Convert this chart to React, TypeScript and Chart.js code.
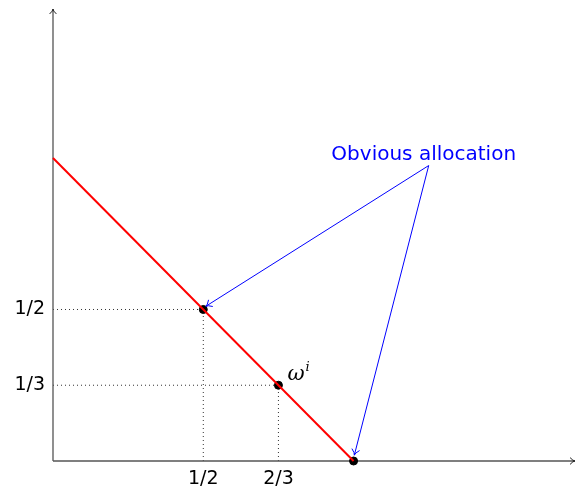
import React, { useEffect, useRef } from "react";
import { Chart, registerables } from "chart.js";

Chart.register(...registerables);

// Budget line x + y = 1
const budgetLine = [
  { x: 0, y: 1 },
  { x: 1, y: 0 },
];
// Marked allocations
const markedPoints = [
  { x: 0.5, y: 0.5 },
  { x: 0.75, y: 0.25 },
  { x: 1, y: 0 },
];
// Tick values and their labels
const xTickValues = [0.5, 0.75];
const xTickLabels = ["1/2", "2/3"];
const yTickValues = [0.5, 0.25];
const yTickLabels = ["1/2", "1/3"];
// Annotation
const annotationText = "Obvious allocation";
const annotationAnchor = { x: 1.25, y: 0.985 };
const annotationTargets = [
  { x: 0.5, y: 0.5 },
  { x: 1, y: 0 },
];
const endowmentLabel = { x: 0.75, y: 0.25 };

const X_MAX = 1.74;
const Y_MAX = 1.495;

const FONT = "'DejaVu Sans', sans-serif";

function arrowHead(ctx: CanvasRenderingContext2D, x: number, y: number, ang: number, len: number) {
  ctx.beginPath();
  ctx.moveTo(x - len * Math.cos(ang - 0.6), y - len * Math.sin(ang - 0.6));
  ctx.quadraticCurveTo(x - len * 0.3 * Math.cos(ang), y - len * 0.3 * Math.sin(ang), x, y);
  ctx.quadraticCurveTo(x - len * 0.3 * Math.cos(ang), y - len * 0.3 * Math.sin(ang), x - len * Math.cos(ang + 0.6), y - len * Math.sin(ang + 0.6));
  ctx.stroke();
}

const overlay = {
  id: "overlay",
  beforeDatasetsDraw(chart: any) {
    const ctx: CanvasRenderingContext2D = chart.ctx;
    const xs = chart.scales.x;
    const ys = chart.scales.y;
    const x0 = xs.getPixelForValue(0);
    const y0 = ys.getPixelForValue(0);
    ctx.save();
    // dotted guides
    ctx.strokeStyle = "#333";
    ctx.lineWidth = 1;
    ctx.setLineDash([1, 3]);
    for (let i = 0; i < xTickValues.length; i++) {
      const px = xs.getPixelForValue(xTickValues[i]);
      const py = ys.getPixelForValue(yTickValues[i]);
      ctx.beginPath();
      ctx.moveTo(px, y0);
      ctx.lineTo(px, py);
      ctx.moveTo(x0, py);
      ctx.lineTo(px, py);
      ctx.stroke();
    }
    ctx.setLineDash([]);
    // axes
    ctx.strokeStyle = "#555";
    ctx.lineWidth = 1.3;
    const xEnd = xs.getPixelForValue(X_MAX) - 1;
    const yEnd = ys.getPixelForValue(Y_MAX) + 1;
    ctx.beginPath();
    ctx.moveTo(x0, y0);
    ctx.lineTo(xEnd, y0);
    ctx.moveTo(x0, y0);
    ctx.lineTo(x0, yEnd);
    ctx.stroke();
    ctx.strokeStyle = "#222";
    ctx.lineWidth = 1;
    arrowHead(ctx, xEnd, y0, 0, 6);
    arrowHead(ctx, x0, yEnd, -Math.PI / 2, 6);
    // tick labels
    ctx.fillStyle = "#000";
    ctx.font = "19px " + FONT;
    ctx.textAlign = "center";
    ctx.textBaseline = "top";
    xTickValues.forEach((v, i) => {
      ctx.fillText(xTickLabels[i], xs.getPixelForValue(v), y0 + 9);
    });
    ctx.textAlign = "right";
    ctx.textBaseline = "middle";
    yTickValues.forEach((v, i) => {
      ctx.fillText(yTickLabels[i], x0 - 8, ys.getPixelForValue(v));
    });
    ctx.restore();
  },
  afterDatasetsDraw(chart: any) {
    const ctx: CanvasRenderingContext2D = chart.ctx;
    const xs = chart.scales.x;
    const ys = chart.scales.y;
    ctx.save();
    // omega label
    const ex = xs.getPixelForValue(endowmentLabel.x);
    const ey = ys.getPixelForValue(endowmentLabel.y);
    ctx.fillStyle = "#000";
    ctx.textAlign = "left";
    ctx.textBaseline = "alphabetic";
    ctx.font = "italic 21px 'DejaVu Serif', serif";
    ctx.fillText("ω", ex + 9, ey - 5);
    const w = ctx.measureText("ω").width;
    ctx.font = "italic 13px 'DejaVu Serif', serif";
    ctx.fillText("i", ex + 10 + w, ey - 14);
    // annotation
    const ax = xs.getPixelForValue(annotationAnchor.x);
    const ay = ys.getPixelForValue(annotationAnchor.y);
    ctx.fillStyle = "#0000ff";
    ctx.strokeStyle = "#0000ff";
    ctx.font = "20px " + FONT;
    ctx.textAlign = "center";
    ctx.fillText(annotationText, ax - 5, ay - 3);
    ctx.lineWidth = 1;
    annotationTargets.forEach((t) => {
      const tx = xs.getPixelForValue(t.x);
      const ty = ys.getPixelForValue(t.y);
      const ang = Math.atan2(ty - (ay + 3), tx - ax);
      const ex2 = tx - 3 * Math.cos(ang);
      const ey2 = ty - 6 * Math.sin(ang);
      ctx.beginPath();
      ctx.moveTo(ax, ay + 3);
      ctx.lineTo(ex2, ey2);
      ctx.stroke();
      arrowHead(ctx, ex2, ey2, ang, 7);
    });
    ctx.restore();
  },
};

export default function App() {
  const ref = useRef<HTMLCanvasElement>(null);
  useEffect(() => {
    if (!ref.current) return;
    const chart = new Chart(ref.current, {
      type: "scatter",
      data: {
        datasets: [
          {
            type: "line",
            data: budgetLine,
            borderColor: "#ff0000",
            borderWidth: 2,
            pointRadius: 0,
            fill: false,
            clip: false,
          } as any,
          {
            type: "scatter",
            data: markedPoints,
            backgroundColor: "#000",
            borderColor: "#000",
            pointRadius: 4,
            clip: false,
          } as any,
        ],
      },
      plugins: [overlay],
      options: {
        animation: false,
        responsive: false,
        devicePixelRatio: 1,
        layout: { padding: { left: 53, right: 1, top: 8, bottom: 35 } },
        plugins: { legend: { display: false }, tooltip: { enabled: false } },
        scales: {
          x: { type: "linear", min: 0, max: X_MAX, display: false },
          y: { type: "linear", min: 0, max: Y_MAX, display: false },
        },
      },
    });
    return () => chart.destroy();
  }, []);
  return (
    <div style={{ position: "fixed", left: 0, top: 0, width: 581, height: 496, background: "#fff" }}>
      <canvas ref={ref} width={581} height={496} />
    </div>
  );
}
